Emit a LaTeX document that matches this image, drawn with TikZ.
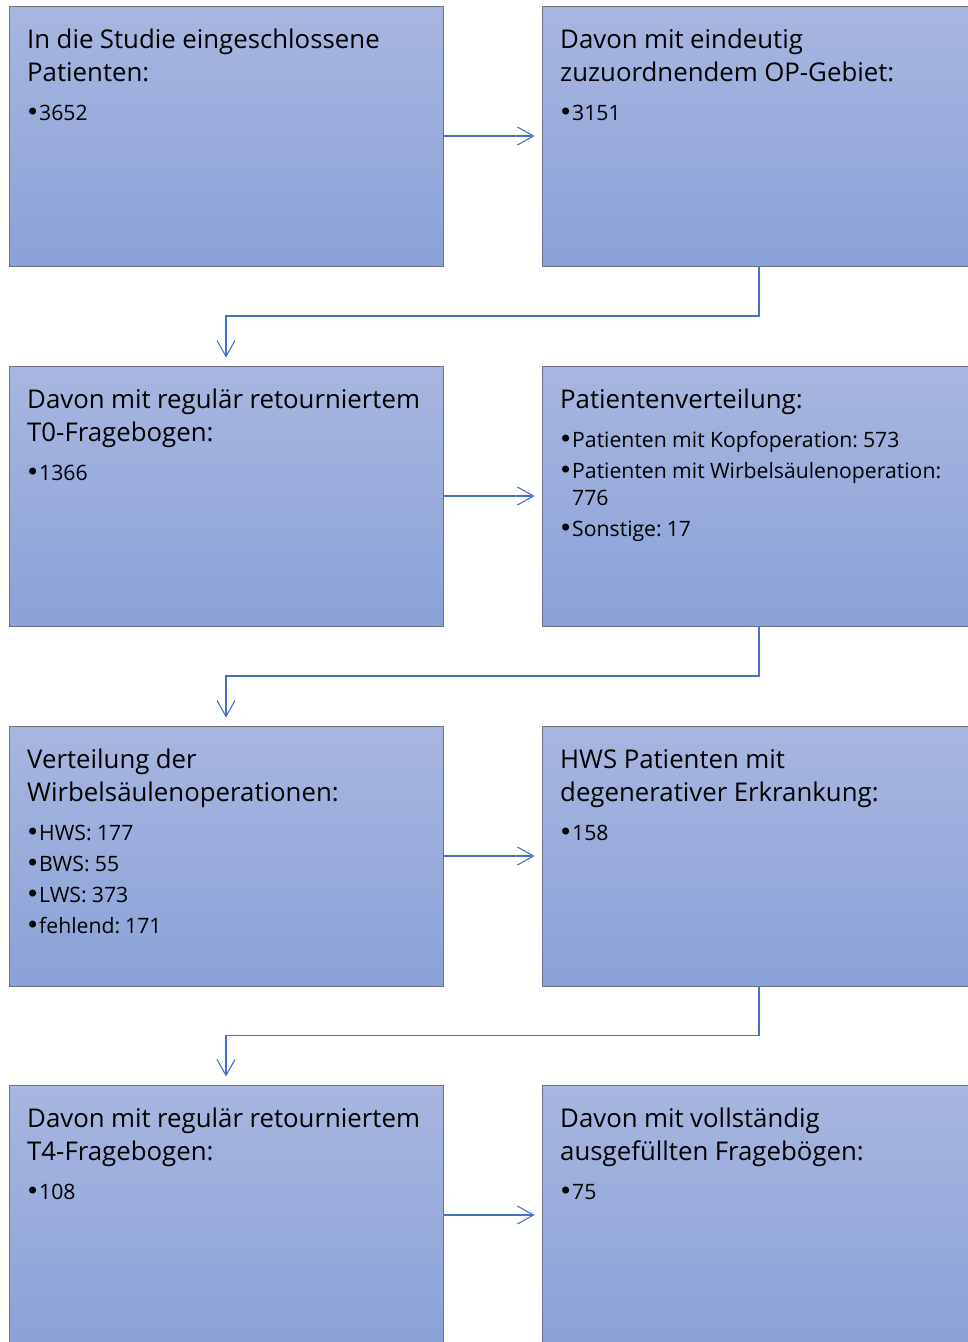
\documentclass[tikz,border=0pt]{standalone}
\usepackage{fontspec}
\setmainfont{Open Sans}
\newfontfamily\bulfont{DejaVu Sans}
\usetikzlibrary{arrows.meta,calc}
\definecolor{boxtop}{HTML}{A8B6E0}
\definecolor{boxbot}{HTML}{8AA2D8}
\definecolor{boxline}{HTML}{6A7385}
\definecolor{conncol}{HTML}{4472C4}
\newcommand{\boxtitle}[1]{{\fontsize{25.8}{33}\selectfont\spaceskip=0.25em\relax\noindent\rule{0pt}{24pt}#1\par}\vspace{8pt}}
\newcommand{\boxitem}[1]{{\fontsize{21.2}{27}\selectfont\spaceskip=0.25em\relax\hangindent=12pt\hangafter=1\noindent\makebox[12pt][l]{\hspace{-1.5pt}\bulfont\fontsize{24}{27}\selectfont•}#1\par}}
\tikzset{
  box/.style={rectangle, minimum width=434pt, minimum height=260pt, inner sep=0pt,
    top color=boxtop, bottom color=boxbot, draw=boxline, line width=0.9pt},
  boxtext/.style={anchor=north west, inner sep=0pt, text width=420pt, align=left},
  conn/.style={draw=conncol, line width=1.1pt, -{Straight Barb[length=16pt,width=18pt]}, shorten >=7pt}
}
\begin{document}
\begin{tikzpicture}[x=1pt,y=1pt]
\useasboundingbox (0,0) rectangle (968,-1342);
% boxes
\node[box] (b1) at (226,-136) {};
\node[box] (b2) at (759,-136) {};
\node[box] (b3) at (226,-496) {};
\node[box] (b4) at (759,-496) {};
\node[box] (b5) at (226,-856) {};
\node[box] (b6) at (759,-856) {};
\node[box] (b7) at (226,-1215) {};
\node[box] (b8) at (759,-1215) {};
% texts
\node[boxtext] (t1) at (27,-24) {\setlength{\parskip}{4pt}\boxtitle{In die Studie eingeschlossene\\Patienten:}\boxitem{3652}};
\node[boxtext] (t2) at (560,-24) {\setlength{\parskip}{4pt}\boxtitle{Davon mit eindeutig\\zuzuordnendem OP-Gebiet:}\boxitem{3151}};
\node[boxtext] (t3) at (27,-384) {\setlength{\parskip}{4pt}\boxtitle{Davon mit regulär retourniertem\\T0-Fragebogen:}\boxitem{1366}};
\node[boxtext] (t4) at (560,-384) {\setlength{\parskip}{4pt}\boxtitle{Patientenverteilung:}\boxitem{Patienten mit Kopfoperation: 573}\boxitem{Patienten mit Wirbelsäulenoperation:\newline 776}\boxitem{Sonstige: 17}};
\node[boxtext] (t5) at (27,-744) {\setlength{\parskip}{4pt}\boxtitle{Verteilung der\\Wirbelsäulenoperationen:}\boxitem{HWS: 177}\boxitem{BWS: 55}\boxitem{LWS: 373}\boxitem{fehlend: 171}};
\node[boxtext] (t6) at (560,-744) {\setlength{\parskip}{4pt}\boxtitle{HWS Patienten mit\\degenerativer Erkrankung:}\boxitem{158}};
\node[boxtext] (t7) at (27,-1103) {\setlength{\parskip}{4pt}\boxtitle{Davon mit regulär retourniertem\\T4-Fragebogen:}\boxitem{108}};
\node[boxtext] (t8) at (560,-1103) {\setlength{\parskip}{4pt}\boxtitle{Davon mit vollständig\\ausgefüllten Fragebögen:}\boxitem{75}};
% connectors
\draw[conn] (b1.east) -- (b2.west);
\draw[conn] (b3.east) -- (b4.west);
\draw[conn] (b5.east) -- (b6.west);
\draw[conn] (b7.east) -- (b8.west);
\draw[conn,shorten >=8pt] (b2.south) |- ($(b2.south)!0.5!(b3.north)$) -| (b3.north);
\draw[conn,shorten >=8pt] (b4.south) |- ($(b4.south)!0.5!(b5.north)$) -| (b5.north);
\draw[conn,shorten >=8pt] (b6.south) |- ($(b6.south)!0.5!(b7.north)$) -| (b7.north);
\end{tikzpicture}
\end{document}
